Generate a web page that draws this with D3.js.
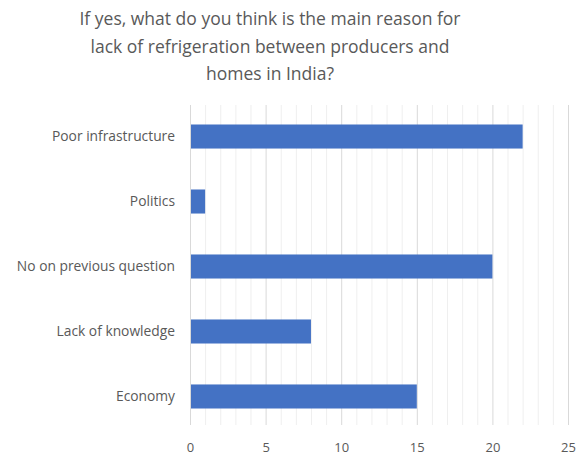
<!DOCTYPE html>
<html>
<head>
<meta charset="utf-8">
<script src="https://cdn.jsdelivr.net/npm/d3@7"></script>
<style>
    body { margin: 0; background: #fff; }
    svg { display: block; font-family: "Open Sans", sans-serif; }
</style>
</head>
<body>
<svg id="chart"></svg>
<script>
'use strict';

const categories = ['Poor infrastructure', 'Politics', 'No on previous question', 'Lack of knowledge', 'Economy'];
const values = [22, 1, 20, 8, 15];
const tickValues = [0, 5, 10, 15, 20, 25];
const titleLines = [
    'If yes, what do you think is the main reason for',
    'lack of refrigeration between producers and',
    'homes in India?'
];

const width = 581;
const height = 456;
const margin = {top: 105, right: 13, bottom: 31, left: 190};
const gridBottom = height - margin.bottom;

const svg = d3.select('#chart')
    .attr('width', width)
    .attr('height', height);

const scaleX = d3.scaleLinear()
    .domain([0, 25])
    .range([margin.left, width - margin.right]);

const scaleY = d3.scaleBand()
    .domain(categories)
    .range([margin.top, height - margin.bottom + 3])
    .paddingInner(0.63)
    .paddingOuter(0.3);

// minor gridlines
svg.append('g')
    .selectAll('line')
    .data(d3.range(1, 26).filter(d => d % 5 !== 0))
    .join('line')
    .attr('x1', d => scaleX(d) + 0.5)
    .attr('x2', d => scaleX(d) + 0.5)
    .attr('y1', margin.top)
    .attr('y2', gridBottom)
    .attr('stroke', '#efefef');

// major gridlines
svg.append('g')
    .selectAll('line')
    .data(tickValues.slice(1))
    .join('line')
    .attr('x1', d => scaleX(d) + 0.5)
    .attr('x2', d => scaleX(d) + 0.5)
    .attr('y1', margin.top)
    .attr('y2', gridBottom)
    .attr('stroke', '#d9d9d9');

// bars
svg.append('g')
    .selectAll('rect')
    .data(categories)
    .join('rect')
    .attr('x', scaleX(0))
    .attr('y', d => scaleY(d))
    .attr('width', (d, i) => scaleX(values[i]) - scaleX(0))
    .attr('height', scaleY.bandwidth())
    .attr('fill', '#4472c4');

// vertical axis line
svg.append('line')
    .attr('x1', scaleX(0) + 0.5)
    .attr('x2', scaleX(0) + 0.5)
    .attr('y1', margin.top)
    .attr('y2', gridBottom)
    .attr('stroke', '#d9d9d9');

const xAxis = svg.append('g')
    .attr('transform', `translate(0, ${gridBottom})`)
    .call(d3.axisBottom(scaleX)
        .tickValues(tickValues)
        .tickSize(0)
        .tickPadding(18));

xAxis.select('.domain').remove();
xAxis.selectAll('text')
    .attr('fill', '#595959')
    .style('font-size', '13px')
    .style('font-family', '"Open Sans", sans-serif');

const yAxis = svg.append('g')
    .attr('transform', `translate(${margin.left}, 0)`)
    .call(d3.axisLeft(scaleY)
        .tickSize(0)
        .tickPadding(15));

yAxis.select('.domain').remove();
yAxis.selectAll('text')
    .attr('fill', '#595959')
    .style('font-size', '13.8px')
    .style('font-family', '"Open Sans", sans-serif');

svg.append('g')
    .selectAll('text')
    .data(titleLines)
    .join('text')
    .attr('x', 270)
    .attr('y', (d, i) => 25 + i * 27.5)
    .attr('text-anchor', 'middle')
    .attr('fill', '#595959')
    .style('font-size', '17.5px')
    .text(d => d);
</script>
</body>
</html>
